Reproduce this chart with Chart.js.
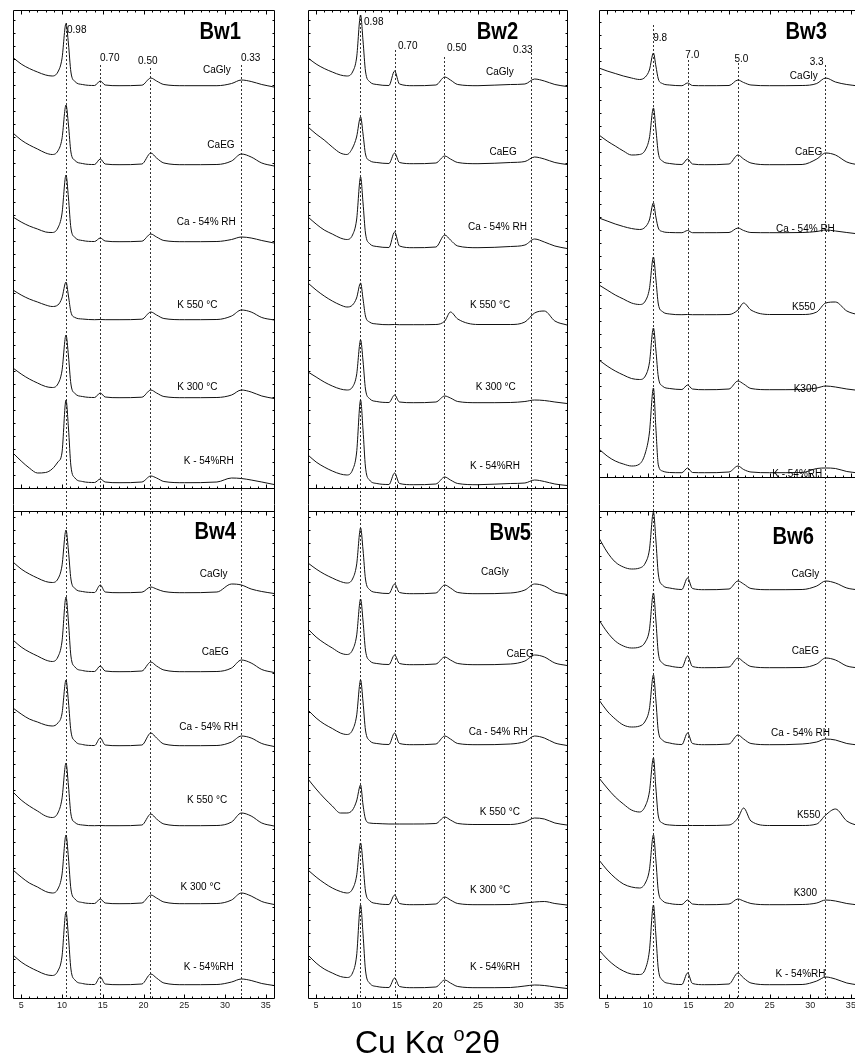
<!DOCTYPE html>
<html>
<head>
<meta charset="utf-8">
<script src="https://cdn.jsdelivr.net/npm/chart.js@4.4.1/dist/chart.umd.min.js"></script>
<style>
  html, body { margin: 0; padding: 0; background: #fff; width: 855px; height: 1064px; overflow: hidden; }
  canvas { position: absolute; top: 0; }
  #xtitle { position: absolute; left: 0; width: 855px; top: 1024px; line-height: 33px; text-align: center;
            font: 32px "Liberation Sans", Arial, sans-serif; color: #000; }
  #xtitle sup { font-size: 20px; vertical-align: 12px; line-height: 0; }
</style>
</head>
<body>
<canvas id="col1" width="284" height="1064" style="left:0px"></canvas>
<canvas id="col2" width="290" height="1064" style="left:290px"></canvas>
<canvas id="col3" width="290" height="1064" style="left:580px"></canvas>
<div id="xtitle">Cu K&alpha; <sup>o</sup>2&theta;</div>

<script>
// ---- data ----
// 2theta sampling used for the traces of Bw1, Bw2, Bw4, Bw5
const X_AB = [4, 5, 6, 7, 8, 8.8, 9.5, 10.0, 10.5, 10.8, 11.1, 11.6, 12.5, 14.0, 14.7, 15.3, 17, 19.8, 20.9, 21.6, 22.5, 25, 29, 30.8, 32, 33.2, 34.5, 36];
// 2theta sampling used for Bw3, Bw6 (peaks sit slightly higher)
const X_C = [4, 5, 6, 7, 8, 9, 9.7, 10.2, 10.7, 11.0, 11.3, 11.8, 12.7, 14.2, 14.9, 15.5, 17, 20, 21.1, 21.8, 22.7, 25, 29, 30.8, 31.9, 33.1, 34.5, 36];

const xTicks = [5, 10, 15, 20, 25, 30, 35];

const treatmentsAB = ['CaGly', 'CaEG', 'Ca - 54% RH', 'K 550 °C', 'K 300 °C', 'K - 54%RH'];
const treatmentsC = ['CaGly', 'CaEG', 'Ca - 54% RH', 'K550', 'K300', 'K - 54%RH'];

// d-spacing markers (dashed lines)
const refsCol1 = [10.5, 14.65, 20.85, 32];
const refsCol2 = [10.45, 14.7, 20.8, 31.6];
const refsCol3 = [10.7, 14.9, 21.05, 31.8];
const refText12 = ['0.98', '0.70', '0.50', '0.33'];
const refText3 = ['9.8', '7.0', '5.0', '3.3'];

// trace offsets (stacking), order: CaGly, CaEG, Ca-54%RH, K550, K300, K-54%RH
const bw1Offsets = [912, 833, 756, 678, 600, 515];
const bw4Offsets = [405, 326, 252, 172, 94, 13];
const bw2Offsets = [912, 834, 750, 673, 595, 513];
const bw5Offsets = [404, 333, 253, 173, 93, 10];
const bw3Offsets = [912, 833, 765, 683, 608, 525];
const bw6Offsets = [408, 330, 253, 172, 93, 13];

// intensities above each trace's baseline
const bw1 = [
  [28.5, 22, 17.5, 14, 11, 10, 14, 27, 62.5, 42, 14, 4.5, 1.5, 0.5, 5, 1, 0.3, 0.8, 8, 5, 1.5, 0.3, 0.3, 2.5, 6, 4.5, 1.5, -1],
  [32, 25, 20, 16, 12, 10.5, 14, 26, 60, 40, 13, 4.5, 1.5, 0.5, 6, 1, 0.3, 1, 12, 7, 2, 0.3, 0.5, 4, 11, 8, 2, -1],
  [25, 20, 16, 13, 10, 9.5, 14, 28, 67, 44, 14, 4.5, 1.5, 0.5, 4, 1, 0.3, 0.8, 8, 5, 1.5, 0.3, 0.5, 2.5, 5, 4, 1.5, -1],
  [30, 25, 21, 18, 15, 13.5, 15, 22, 38, 24, 8, 2.5, 1, 0.3, 0.5, 0.3, 0.3, 0.8, 8, 5, 1.5, 0.3, 0.5, 4, 10, 8, 2.5, 0],
  [30, 24, 19, 15, 11.5, 10.5, 14, 27, 63, 42, 14, 4.5, 1.5, 0.5, 5, 1, 0.3, 0.8, 8, 5, 1.5, 0.3, 0.5, 3, 8, 6, 2, -0.5],
  [30, 22, 15, 10, 10.5, 14, 21, 30, 83, 55, 17, 5, 1.5, 0.5, 4, 1, 0.3, 1, 7, 5, 1.5, 0.3, 1, 5, 4.5, 3, 1, -1.5]
];
const bw4 = [
  [31, 24, 19, 15, 11.5, 10.5, 14, 27, 63, 42, 14, 4.5, 1.5, 0.5, 8, 1, 0.3, 0.8, 6, 4, 1.5, 0.3, 1, 9, 8, 4, 1.5, -0.5],
  [32, 25, 20, 16, 12, 10.5, 15, 30, 75, 50, 16, 5, 1.5, 0.5, 6, 1, 0.3, 1, 10, 6, 2, 0.3, 0.5, 4, 12, 9, 2.5, -0.5],
  [38, 32, 27, 24, 21, 20, 23, 32, 66, 44, 15, 5, 1.5, 0.5, 8, 1, 0.3, 1, 13, 8, 2, 0.3, 0.5, 4, 10, 8, 2.5, -0.5],
  [34, 26, 20, 15, 10, 8.5, 13, 27, 63, 40, 12, 3.5, 1, 0.3, 0.5, 0.3, 0.3, 1, 12, 7, 2, 0.3, 0.5, 4, 13, 10, 3, 0],
  [34, 27, 21, 17, 12.5, 11, 15, 29, 69, 46, 15, 5, 1.5, 0.5, 5, 1, 0.3, 1, 9, 6, 2, 0.3, 0.5, 4, 11, 8, 2.5, -0.5],
  [30, 23, 18, 14, 10.5, 9.5, 14, 28, 73, 48, 16, 5, 1.5, 0.5, 8, 1, 0.3, 1, 11, 7, 2, 0.3, 0.5, 3, 6, 4.5, 1.5, -0.5]
];
const bw2 = [
  [28, 22, 17.5, 14, 11, 10, 14, 28, 71, 45, 15, 4.5, 1.5, 0.5, 15, 2, 0.3, 1, 9, 6, 1.5, 0.3, 1.5, 2, 7, 5, 1.5, -0.5],
  [37, 30, 24, 17, 11, 9.5, 16, 27, 47, 30, 10, 3.5, 1.5, 0.5, 11, 1.5, 0.3, 1, 8, 5, 1.5, 0.3, 1.5, 2.5, 7, 5, 1.5, -0.5],
  [31, 24, 18, 14, 10, 8.5, 13, 28, 71, 45, 15, 4.5, 1.5, 0.5, 16, 2, 0.3, 1, 13, 8, 2, 0.3, 1.5, 3, 9, 6, 2, -0.5],
  [42, 35, 29, 24, 20, 18, 20, 27, 42, 26, 9, 3, 1, 0.3, 0.5, 0.3, 0.3, 0.5, 4, 13, 6, 0.5, 0.5, 3, 12, 14, 4, 0],
  [31, 26, 21, 17, 14, 13, 16, 28, 63, 42, 14, 4.5, 1.5, 0.5, 8, 1, 0.3, 1, 7, 5, 1.5, 0.3, 0.5, 1.5, 3, 2.5, 1, -0.5],
  [30, 23, 18, 14, 11, 10, 15, 32, 85, 55, 18, 5, 1.5, 0.5, 12, 1.5, 0.3, 1, 8, 5, 1.5, 0.3, 1.5, 2, 5, 3.5, 1, -0.5]
];
const bw5 = [
  [31, 25, 20, 16, 12.5, 11, 15, 29, 66, 44, 15, 4.5, 1.5, 0.5, 10, 1.5, 0.3, 1, 9, 6, 1.5, 0.3, 1, 4, 10, 8, 2, -0.5],
  [36, 28, 22, 17, 12, 10.5, 15, 29, 66, 44, 15, 4.5, 1.5, 0.5, 10, 1.5, 0.3, 1, 8, 5, 1.5, 0.3, 1, 4, 10, 8, 2, -0.5],
  [35, 27, 21, 16.5, 12, 10.5, 15, 29, 65, 43, 15, 4.5, 1.5, 0.5, 12, 1.5, 0.3, 1, 9, 6, 1.5, 0.3, 1, 3.5, 9, 7, 2, -0.5],
  [46, 36, 27, 19, 12, 12, 15, 24, 40, 20, 6, 2, 1.5, 1, 1, 1, 1, 1.5, 8, 5, 1.5, 0.5, 0.5, 3, 7, 6, 2, 0],
  [35, 28, 22, 17, 13.5, 12, 16, 29, 62, 41, 14, 4.5, 1.5, 0.5, 10, 1.5, 0.3, 1, 8, 5, 1.5, 0.3, 0.5, 2, 3, 3.5, 1.5, 0],
  [33, 25, 19, 15, 11.5, 10.5, 15, 32, 83, 54, 18, 5, 1.5, 0.5, 10, 1.5, 0.3, 1, 8, 5, 1.5, 0.3, 0.5, 2, 3, 2.5, 1, -0.5]
];
const bw3 = [
  [18, 15, 12.5, 10, 8, 6.5, 9, 16, 33, 20, 7, 2.5, 1, 0.3, 3, 0.5, 0.3, 0.5, 6, 3.5, 1, 0.3, 0.5, 2.5, 8, 4, 1.5, 0],
  [30, 24, 19, 14, 10, 10.5, 15, 27, 57, 36, 12, 4, 1.5, 0.5, 6, 1, 0.3, 1, 10, 6, 2, 0.3, 0.5, 6, 12, 10, 3, 0],
  [15, 12, 9, 6.5, 4.5, 3.5, 6, 13, 30, 16, 5, 1.5, 0.5, 0.3, 2.5, 0.3, 0.3, 0.5, 5, 2.5, 0.5, 0.3, 0.5, 1.5, 3, 2, 0.5, -1],
  [30, 25, 20, 16, 12, 10.5, 14, 26, 58, 36, 11, 3.5, 1, 0.3, 0.5, 0.3, 0.3, 0.5, 5, 12, 5, 0.5, 0.5, 3, 12, 13, 4, 0],
  [30, 24, 19, 15, 11.5, 10.5, 14, 27, 62, 40, 13, 4, 1.5, 0.5, 5, 1, 0.3, 1, 9, 6, 1.5, 0.3, 0.5, 2, 4, 3, 1, -0.5],
  [24, 17, 12, 9, 7, 9, 20, 40, 85, 45, 8, 2, 0.5, 0.3, 5, 0.5, 0.3, 1, 7, 3.5, 1, 0.3, 0.5, 4.5, 5, 4.5, 1.5, 0]
];
const bw6 = [
  [52, 38, 28, 23, 21, 22, 27, 40, 78, 50, 16, 5, 2, 0.5, 12, 1.5, 0.3, 1, 9, 6, 1.5, 0.3, 0.5, 4, 9, 7, 2, 0],
  [48, 36, 27, 22, 20, 21, 26, 38, 75, 48, 15, 5, 2, 0.5, 12, 1.5, 0.3, 1, 10, 6, 1.5, 0.3, 0.5, 4, 10, 8, 2, 0],
  [45, 34, 26, 20, 18, 19, 24, 36, 70, 45, 14, 5, 2, 0.5, 12, 1.5, 0.3, 1, 10, 6, 1.5, 0.3, 1, 3, 6, 5, 1.5, 0],
  [48, 38, 29, 22, 16, 14, 20, 34, 68, 38, 10, 3, 1, 0.5, 0.5, 0.5, 0.5, 1, 8, 18, 5, 0.5, 0.5, 2, 11, 17, 5, 0],
  [45, 35, 27, 21, 18, 17, 22, 35, 70, 45, 14, 4.5, 1.5, 0.5, 5, 1, 0.3, 1, 6, 4, 1.5, 0.3, 0.5, 2, 5, 4, 1.5, 0],
  [35, 26, 19, 14, 11, 10.5, 16, 34, 80, 50, 16, 5, 1.5, 0.5, 12, 1.5, 0.3, 1, 12, 7, 2, 0.3, 0.5, 4, 8, 6, 2, 0]
];

// ---- layout ----
const X_MIN = 4, X_MAX = 36, Y_MAX = 988;
const FONT = '"Liberation Sans", Arial, Helvetica, sans-serif';

// label anchor per trace: [2theta centre, height above baseline]
const labelPos = {
  Bw1: [[29.0, 16], [29.5, 20], [27.7, 20], [26.6, 15], [26.6, 11], [28.0, 22]],
  Bw4: [[28.6, 19], [28.8, 20], [28.0, 19], [27.8, 26], [27.0, 17], [28.0, 18]],
  Bw2: [[27.7, 14], [28.1, 12], [27.4, 21], [26.5, 20], [27.2, 16], [27.1, 19]],
  Bw5: [[27.1, 22], [30.2, 11], [27.5, 13], [27.7, 13], [26.5, 15], [27.1, 21]],
  Bw3: [[29.2, 10], [29.8, 13], [29.4, 4], [29.2, 8], [29.4, 1], [28.4, -1]],
  Bw6: [[29.4, 16], [29.4, 17], [28.8, 12], [29.8, 11], [29.4, 12], [28.8, 11]]
};

const columns = [
  {
    id: 'col1', pad: { left: 13, right: 10 }, x: X_AB, refs: refsCol1,
    refTop: [975, 933, 930, 933], refText: refText12,
    refLabel: [[10.62, 968], [14.67, 940], [19.33, 937], [31.95, 940]],
    breakLow: 510, breakHigh: 487,
    panels: [
      { name: 'Bw1', title: [29.4, 966], offsets: bw1Offsets, traces: bw1, labels: treatmentsAB },
      { name: 'Bw4', title: [28.8, 466], offsets: bw4Offsets, traces: bw4, labels: treatmentsAB }
    ]
  },
  {
    id: 'col2', pad: { left: 18, right: 13 }, x: X_AB, refs: refsCol2,
    refTop: [983, 948, 941, 945], refText: refText12,
    refLabel: [[10.92, 976], [15.12, 952], [21.18, 950], [29.34, 948]],
    breakLow: 510, breakHigh: 487,
    panels: [
      { name: 'Bw2', title: [27.4, 966], offsets: bw2Offsets, traces: bw2, labels: treatmentsAB },
      { name: 'Bw5', title: [29.0, 465], offsets: bw5Offsets, traces: bw5, labels: treatmentsAB }
    ]
  },
  {
    id: 'col3', pad: { left: 19, right: 11 }, x: X_C, refs: refsCol3,
    refTop: [973, 938, 935, 933], refText: refText3,
    refLabel: [[10.67, 960], [14.62, 943], [20.67, 939], [29.93, 936]],
    breakLow: 521, breakHigh: 487,
    panels: [
      { name: 'Bw3', title: [29.5, 966], offsets: bw3Offsets, traces: bw3, labels: treatmentsC },
      { name: 'Bw6', title: [27.9, 461], offsets: bw6Offsets, traces: bw6, labels: treatmentsC }
    ]
  }
];

const px = v => Math.round(v) + 0.5;

const xrdFrame = {
  id: 'xrdFrame',
  beforeDatasetsDraw(chart, args, o) {
    const { ctx, scales: { x, y } } = chart;
    const bottom = y.getPixelForValue(0);
    ctx.save();
    ctx.strokeStyle = '#333';
    ctx.lineWidth = 1;
    ctx.setLineDash([2, 2]);
    o.col.refs.forEach((v, i) => {
      const xp = px(x.getPixelForValue(v));
      ctx.beginPath();
      ctx.moveTo(xp, y.getPixelForValue(o.col.refTop[i]));
      ctx.lineTo(xp, bottom);
      ctx.stroke();
    });
    ctx.restore();
  },
  afterDatasetsDraw(chart, args, o) {
    const { ctx, scales: { x, y } } = chart;
    const col = o.col;
    const L = px(x.getPixelForValue(X_MIN)), R = px(x.getPixelForValue(X_MAX));
    const T = px(y.getPixelForValue(Y_MAX)), B = px(y.getPixelForValue(0));
    const b1 = px(y.getPixelForValue(col.breakLow)), b2 = px(y.getPixelForValue(col.breakHigh));

    ctx.save();
    ctx.strokeStyle = '#000';
    ctx.lineWidth = 1;
    ctx.beginPath();
    ctx.moveTo(L, T); ctx.lineTo(L, B);
    ctx.moveTo(R, T); ctx.lineTo(R, B);
    [T, b1, b2, B].forEach(yp => { ctx.moveTo(L, yp); ctx.lineTo(R, yp); });
    ctx.stroke();

    // inward ticks on the horizontal axes
    ctx.beginPath();
    for (let v = X_MIN + 1; v < X_MAX; v += 1) {
      const len = v % 5 === 0 ? 4 : 2;
      const xp = px(x.getPixelForValue(v));
      [[T, 1], [b1, -1], [b2, 1], [B, -1]].forEach(([yp, dir]) => {
        ctx.moveTo(xp, yp); ctx.lineTo(xp, yp + dir * len);
      });
    }
    // inward ticks on the vertical axes (both panels)
    [[col.breakLow, Y_MAX], [0, col.breakHigh]].forEach(([lo, hi]) => {
      for (let v = lo + 13; v < hi; v += 13) {
        const yp = px(y.getPixelForValue(v));
        ctx.moveTo(L, yp); ctx.lineTo(L + 2, yp);
        ctx.moveTo(R, yp); ctx.lineTo(R - 2, yp);
      }
    });
    ctx.stroke();

    // bottom tick labels
    ctx.fillStyle = '#222';
    ctx.font = '9px ' + FONT;
    ctx.textAlign = 'center';
    ctx.textBaseline = 'top';
    xTicks.forEach(t => ctx.fillText(String(t), x.getPixelForValue(t), B + 3));

    // d-spacing labels
    ctx.fillStyle = '#000';
    ctx.font = '10px ' + FONT;
    ctx.textAlign = 'left';
    ctx.textBaseline = 'middle';
    col.refText.forEach((s, i) => {
      ctx.fillText(s, x.getPixelForValue(col.refLabel[i][0]), y.getPixelForValue(col.refLabel[i][1]));
    });

    col.panels.forEach(p => {
      // panel title
      ctx.save();
      ctx.font = 'bold 24px ' + FONT;
      ctx.textAlign = 'center';
      ctx.textBaseline = 'middle';
      ctx.translate(x.getPixelForValue(p.title[0]), y.getPixelForValue(p.title[1]));
      ctx.scale(0.84, 1);
      ctx.fillText(p.name, 0, 0);
      ctx.restore();

      // treatment labels
      ctx.font = '10px ' + FONT;
      ctx.textAlign = 'center';
      ctx.textBaseline = 'middle';
      p.labels.forEach((s, i) => {
        const [lx, dy] = labelPos[p.name][i];
        ctx.fillText(s, x.getPixelForValue(lx), y.getPixelForValue(p.offsets[i] + dy));
      });
    });
    ctx.restore();
  }
};

columns.forEach(col => {
  const datasets = [];
  col.panels.forEach(p => {
    p.traces.forEach((vals, i) => {
      datasets.push({
        label: p.name + ' ' + p.labels[i],
        data: col.x.map((xv, k) => ({ x: xv, y: p.offsets[i] + vals[k] })),
        borderColor: '#111',
        borderWidth: 1,
        pointRadius: 0,
        fill: false,
        cubicInterpolationMode: 'monotone'
      });
    });
  });

  new Chart(document.getElementById(col.id), {
    type: 'line',
    data: { datasets },
    options: {
      responsive: false,
      animation: false,
      devicePixelRatio: 1,
      layout: { padding: { left: col.pad.left, right: col.pad.right, top: 10, bottom: 66 } },
      scales: {
        x: { type: 'linear', min: X_MIN, max: X_MAX, display: false },
        y: { type: 'linear', min: 0, max: Y_MAX, display: false }
      },
      plugins: {
        legend: { display: false },
        tooltip: { enabled: false },
        xrdFrame: { col }
      }
    },
    plugins: [xrdFrame]
  });
});
</script>
</body>
</html>
